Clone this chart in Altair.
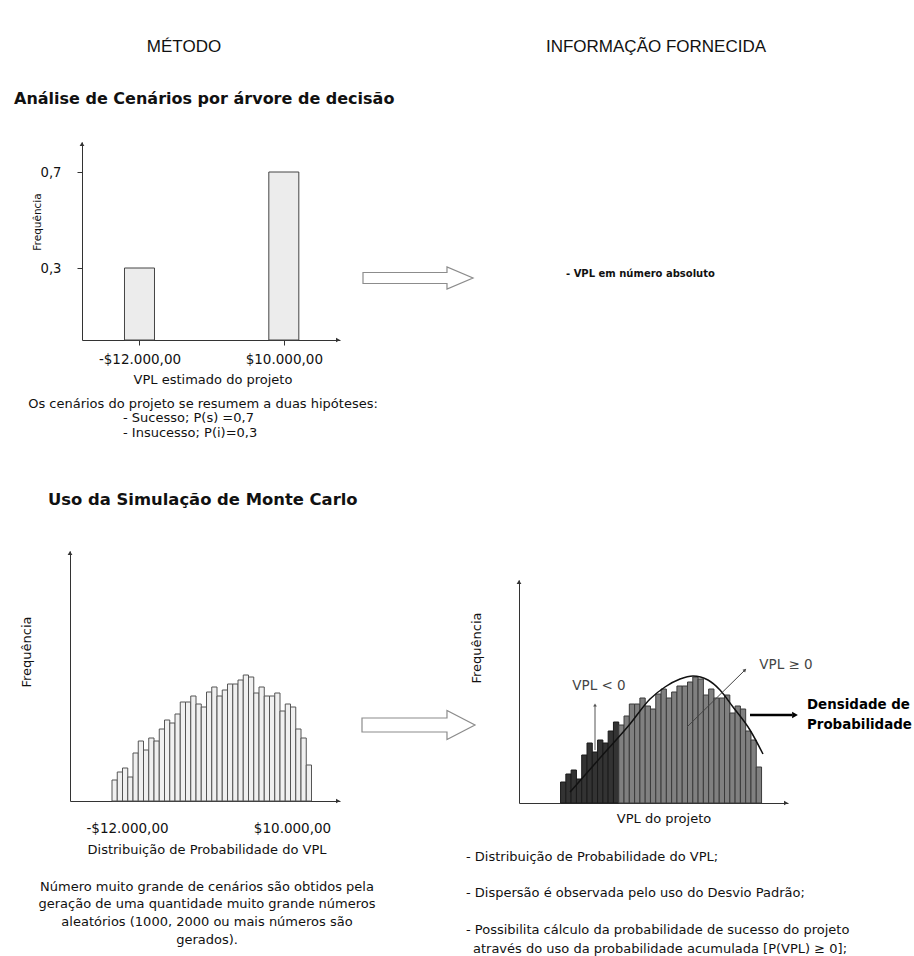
import altair as alt
import pandas as pd

W, H = 914, 956
FONT = "DejaVu Sans"
TXT = "#111111"
AX = "#333333"

# ---------------- data ----------------
# Análise de cenários (árvore de decisão)
cenario_vpl = [-12000, 10000]
cenario_freq = [0.3, 0.7]
freq_ticks = [0.3, 0.7]

# VPL tick values and their labels
vpl_ticks = [-12000, 10000]
vpl_tick_labels = ["-$12.000,00", "$10.000,00"]

# Monte Carlo histogram: class start (VPL) and frequency of each class
BIN = 700
mc_bin_start = [-14000 + BIN * i for i in range(38)]
mc_freq = [21, 29, 33, 24, 48, 60, 51, 63, 60, 72, 81, 78, 87, 99, 99, 105, 97, 94, 109,
           114, 105, 111, 117, 117, 121, 126, 124, 108, 114, 105, 105, 108, 90, 97, 94, 72, 63, 36]

# Same simulated distribution, "VPL do projeto" classes (VPL < 0 = first classes)
proj_bin_start = [-7700 + BIN * i for i in range(38)]
proj_freq = [21, 29, 33, 24, 48, 60, 51, 63, 60, 72, 81, 78, 87, 99, 99, 105, 97, 94, 109,
             114, 105, 111, 117, 117, 121, 126, 124, 108, 114, 105, 105, 108, 90, 97, 94, 72, 63, 36]

# Probability density curve drawn over the histogram
curve_vpl = [-6450, -2480, 1490, 4140, 6120, 8110, 9830, 11810, 13400, 15120, 17370, 19090]
curve_dens = [11, 45, 79, 104, 116, 124, 127, 123, 113, 96, 73, 49]

label_expr = " : ".join(f"datum.value == {v} ? '{l}'" for v, l in zip(vpl_ticks, vpl_tick_labels)) + " : ''"


# ---------------- helpers ----------------
def text(s, x, y, size=13, bold=False, align="center", angle=0, font=FONT, color=TXT):
    kw = dict(font=font, fontSize=size, fontWeight="bold" if bold else "normal",
              align=align, baseline="middle", color=color)
    if angle:
        kw["angle"] = angle
    return alt.Chart(pd.DataFrame({"t": [s]})).mark_text(**kw).encode(
        x=alt.value(x), y=alt.value(y), text="t:N")


def line(x1, y1, x2, y2, color=AX, width=1.0):
    return alt.Chart(pd.DataFrame({"d": [0]})).mark_rule(color=color, strokeWidth=width).encode(
        x=alt.value(x1), y=alt.value(y1), x2=alt.value(x2), y2=alt.value(y2))


def head(x, y, shape, size, color=AX, angle=0):
    kw = dict(shape=shape, size=size, filled=True, color=color, opacity=1, strokeWidth=0)
    if angle:
        kw["angle"] = angle
    return alt.Chart(pd.DataFrame({"d": [0]})).mark_point(**kw).encode(
        x=alt.value(x), y=alt.value(y))


def block_arrow(cx, cy, width, head_start, shaft_half, head_half):
    path = (f"M -1 {-shaft_half} L {head_start} {-shaft_half} L {head_start} {-head_half} "
            f"L 1 0 L {head_start} {head_half} L {head_start} {shaft_half} L -1 {shaft_half} Z")
    return alt.Chart(pd.DataFrame({"d": [0]})).mark_point(
        shape=path, size=width * width, filled=True, fill="white", fillOpacity=1,
        stroke="#8c8c8c", strokeWidth=1.2, opacity=1).encode(x=alt.value(cx), y=alt.value(cy))


def x_axis(baseline, values=None, tick=0, pad=0):
    kw = dict(orient="bottom", offset=baseline - H, title=None, grid=False, domainColor=AX,
              domainWidth=1, labelFont=FONT, labelFontSize=13.5, labelColor=TXT, labelFlush=False)
    if values:
        kw.update(values=values, labelExpr=label_expr, ticks=tick > 0, tickSize=tick,
                  tickColor=AX, labelPadding=pad)
    else:
        kw.update(labels=False, ticks=False)
    return alt.Axis(**kw)


def y_axis(x0, values=None, expr=None, tick=0, pad=0):
    kw = dict(orient="left", offset=-x0, title=None, grid=False, domainColor=AX, domainWidth=1,
              labelFont=FONT, labelFontSize=13.2, labelColor=TXT)
    if values:
        kw.update(values=values, labelExpr=expr, ticks=True, tickSize=tick, tickColor=AX,
                  labelPadding=pad)
    else:
        kw.update(labels=False, ticks=False)
    return alt.Axis(**kw)


layers = []

# ---------------- headers ----------------
layers.append(text("MÉTODO", 184, 47, size=17, font="Liberation Sans"))
layers.append(text("INFORMAÇÃO FORNECIDA", 656, 47, size=17, font="Liberation Sans"))

# ---------------- top-left: decision tree scenarios ----------------
layers.append(text("Análise de Cenários por árvore de decisão", 14, 99, size=16, bold=True, align="left"))
cen_df = pd.DataFrame({"vpl": cenario_vpl, "freq": cenario_freq})
layers.append(
    alt.Chart(cen_df).mark_bar(size=30, fill="#ececec", stroke="#444444", strokeWidth=1).encode(
        x=alt.X("vpl:Q", scale=alt.Scale(domain=[-20000, 17800], range=[82, 340]),
                axis=x_axis(340, vpl_ticks, tick=5, pad=7)),
        y=alt.Y("freq:Q", scale=alt.Scale(domain=[0, 0.825], range=[340, 142]),
                axis=y_axis(82, freq_ticks, "replace(format(datum.value, '.1f'), '.', ',')", tick=5, pad=16)),
    )
)
layers.append(head(82, 144, "triangle-up", 22))
layers.append(head(338, 340, "triangle-right", 22))
layers.append(text("Frequência", 38, 222, size=10.5, angle=270))
layers.append(text("VPL estimado do projeto", 213, 380))
layers.append(text("Os cenários do projeto se resumem a duas hipóteses:", 203, 404))
layers.append(text("- Sucesso; P(s) =0,7", 123, 418, align="left"))
layers.append(text("- Insucesso; P(i)=0,3", 123, 433, align="left"))

layers.append(block_arrow(418, 278, 110, 0.527, 0.1, 0.2))
layers.append(text("- VPL em número absoluto", 566, 274, size=10, bold=True, align="left"))

# ---------------- bottom-left: Monte Carlo histogram ----------------
layers.append(text("Uso da Simulação de Monte Carlo", 48, 500, size=16.4, bold=True, align="left"))
mc_df = pd.DataFrame({"bin_start": mc_bin_start, "freq": mc_freq})
layers.append(
    alt.Chart(mc_df).transform_calculate(bin_end=f"datum.bin_start + {BIN}", base="0")
    .mark_rect(fill="#f0f0f0", stroke="#555555", strokeWidth=1).encode(
        x=alt.X("bin_start:Q", scale=alt.Scale(domain=[-19600, 16400], range=[70, 340]),
                axis=x_axis(801, vpl_ticks, tick=0, pad=20)),
        x2="bin_end:Q",
        y=alt.Y("freq:Q", scale=alt.Scale(domain=[0, 250], range=[801, 551]), axis=y_axis(70)),
        y2="base:Q",
    )
)
layers.append(head(70, 553, "triangle-up", 22))
layers.append(head(338, 801, "triangle-right", 22))
layers.append(text("Frequência", 27, 652, angle=270))
layers.append(text("Distribuição de Probabilidade do VPL", 207, 850))
for yy, s in zip([887, 904, 922, 940],
                 ["Número muito grande de cenários são obtidos pela",
                  "geração de uma quantidade muito grande números",
                  "aleatórios (1000, 2000 ou mais números são",
                  "gerados)."]):
    layers.append(text(s, 207, yy))

layers.append(block_arrow(418.5, 725, 113, 0.504, 0.124, 0.257))

# ---------------- bottom-right: distribution with density ----------------
xr = alt.Scale(domain=[-13200, 22400], range=[519, 788])
yr = alt.Scale(domain=[0, 223], range=[803, 580])
proj_df = pd.DataFrame({"bin_start": proj_bin_start, "freq": proj_freq})
layers.append(line(595, 750, 595, 706, color="#555555", width=1))
layers.append(
    alt.Chart(proj_df).transform_calculate(bin_end=f"datum.bin_start + {BIN}", base="0")
    .mark_rect(strokeWidth=1).encode(
        x=alt.X("bin_start:Q", scale=xr, axis=x_axis(803)),
        x2="bin_end:Q",
        y=alt.Y("freq:Q", scale=yr, axis=y_axis(519)),
        y2="base:Q",
        fill=alt.condition("datum.bin_end <= 0", alt.value("#333333"), alt.value("#808080")),
        stroke=alt.condition("datum.bin_end <= 0", alt.value("#1a1a1a"), alt.value("#3a3a3a")),
    )
)
curve_df = pd.DataFrame({"vpl": curve_vpl, "dens": curve_dens})
layers.append(
    alt.Chart(curve_df).mark_line(interpolate="monotone", color="#111111", strokeWidth=1.5).encode(
        x=alt.X("vpl:Q", scale=xr, axis=None),
        y=alt.Y("dens:Q", scale=yr, axis=None),
    )
)
layers.append(head(519, 582, "triangle-up", 22))
layers.append(head(786, 803, "triangle-right", 22))
layers.append(text("Frequência", 477, 648, angle=270))
layers.append(text("VPL do projeto", 664, 819))

# annotations
layers.append(head(595, 705, "triangle-up", 14, color="#555555"))
layers.append(text("VPL < 0", 599, 686, size=13.5, color="#444444"))
layers.append(line(687, 727, 745, 670, color="#444444", width=1))
layers.append(head(745, 670, "triangle-up", 14, color="#444444", angle=46))
layers.append(text("VPL ≥ 0", 786, 665, size=13.5, color="#444444"))
layers.append(line(750, 715, 792, 715, color="#000000", width=2.5))
layers.append(head(795, 715, "triangle-right", 45, color="#000000"))
layers.append(text("Densidade de", 807, 705, size=13.4, bold=True, align="left", color="#000000"))
layers.append(text("Probabilidade", 807, 725, size=13.4, bold=True, align="left", color="#000000"))

for yy, xx, s in [(857, 466, "- Distribuição de Probabilidade do VPL;"),
                  (893, 466, "- Dispersão é observada pelo uso do Desvio Padrão;"),
                  (930, 466, "- Possibilita cálculo da probabilidade de sucesso do projeto"),
                  (949, 473, "através do uso da probabilidade acumulada [P(VPL) ≥ 0];")]:
    layers.append(text(s, xx, yy, align="left"))

chart = (
    alt.layer(*layers)
    .resolve_scale(x="independent", y="independent")
    .properties(width=W, height=H, autosize=alt.AutoSizeParams(type="none"), padding=0,
                background="white")
    .configure_view(stroke=None)
)

chart.save("out.html", embed_options={"renderer": "svg", "actions": False})
